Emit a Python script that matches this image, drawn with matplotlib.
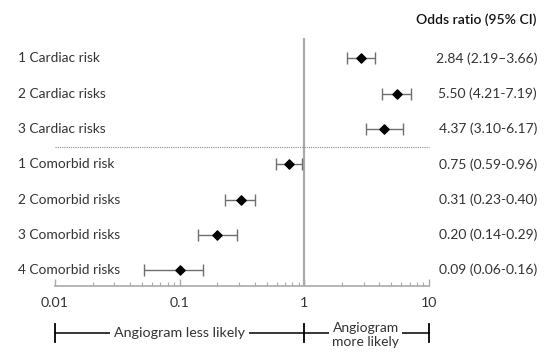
import matplotlib
matplotlib.use("Agg")
import matplotlib.pyplot as plt
import matplotlib.transforms as mtransforms
from matplotlib.lines import Line2D
from matplotlib.ticker import LogLocator, NullFormatter, FixedLocator, FixedFormatter

plt.rcParams['font.family'] = ['Lato', 'DejaVu Sans']

categories = ["1 Cardiac risk", "2 Cardiac risks", "3 Cardiac risks",
              "1 Comorbid risk", "2 Comorbid risks", "3 Comorbid risks", "4 Comorbid risks"]
odds = [2.84, 5.50, 4.37, 0.75, 0.31, 0.20, 0.10]
lower = [2.19, 4.21, 3.10, 0.59, 0.23, 0.14, 0.052]
upper = [3.66, 7.19, 6.17, 0.96, 0.40, 0.29, 0.155]
ci_labels = ["2.84 (2.19\u20133.66)", "5.50 (4.21-7.19)", "4.37 (3.10-6.17)",
             "0.75 (0.59-0.96)", "0.31 (0.23-0.40)", "0.20 (0.14-0.29)",
             "0.09 (0.06-0.16)"]
tick_vals = [0.01, 0.1, 1, 10]
tick_labels = ["0.01", "0.1", "1", "10"]

W, H = 555, 364
fig = plt.figure(figsize=(W/100, H/100), dpi=100)
ax = fig.add_axes([55/W, 1-286/H, (429-55)/W, (286-38)/H])

ax.set_xscale('log')
ax.set_xlim(0.01, 10)
ax.set_ylim(6.45, -0.58)

ys = list(range(len(categories)))
xerr = [[o - l for o, l in zip(odds, lower)], [u - o for o, u in zip(odds, upper)]]
ax.errorbar(odds, ys, xerr=xerr, fmt='none', ecolor='#6e6e6e', elinewidth=1.0,
            capsize=4, capthick=1.0, zorder=2)
ax.scatter(odds, ys, marker='D', s=22, color='black', zorder=3)

ax.axvline(1, color='#aaaaaa', lw=1.6, zorder=1)
ax.plot([0.01, 10], [2.5, 2.5], color='#888888', lw=0.8, ls=(0, (1, 1)), zorder=1,
        clip_on=False)

for s in ['top', 'right', 'left']:
    ax.spines[s].set_visible(False)
ax.spines['bottom'].set_color('#aaaaaa')
ax.spines['bottom'].set_linewidth(1.2)
ax.set_yticks([])
ax.xaxis.set_major_locator(FixedLocator(tick_vals))
ax.xaxis.set_major_formatter(FixedFormatter(tick_labels))
ax.xaxis.set_minor_locator(LogLocator(base=10, subs=range(2, 10)))
ax.xaxis.set_minor_formatter(NullFormatter())
ax.tick_params(axis='x', which='major', direction='in', length=5, width=1, color='#aaaaaa',
               labelsize=10.2, pad=8, labelcolor='#333333')
ax.tick_params(axis='x', which='minor', direction='in', length=3, width=0.8, color='#aaaaaa')

# row labels and CI labels
tr_left = mtransforms.blended_transform_factory(fig.transFigure, ax.transData)
for y, c, t in zip(ys, categories, ci_labels):
    ax.text(18/W, y, c, transform=tr_left, ha='left', va='center', fontsize=9.9, color='#333333')
    ax.text(537/W, y, t, transform=tr_left, ha='right', va='center', fontsize=10, color='#333333')

fig.text(537/W, 1-20/H, "Odds ratio (95% CI)", ha='right', va='center', fontsize=10,
         fontweight='semibold', color='#111111')

# bottom bracket
tr_b = mtransforms.blended_transform_factory(ax.transData, fig.transFigure)
yb = 1-333/H
fig.add_artist(Line2D([0.01, 10], [yb, yb], transform=tr_b, color='black', lw=1.1))
for xv in [0.01, 1, 10]:
    fig.add_artist(Line2D([xv, xv], [1-324/H, 1-342/H], transform=tr_b, color='black', lw=1.3))
fig.text(0.1, yb, "Angiogram less likely", transform=tr_b, ha='center', va='center',
         fontsize=10.3, color='#333333',
         bbox=dict(facecolor='white', edgecolor='none', pad=3))
fig.text(3.1, 1-335/H, "Angiogram\nmore likely", transform=tr_b, ha='center', va='center',
         fontsize=10, color='#333333', linespacing=1.15,
         bbox=dict(facecolor='white', edgecolor='none', pad=2))

fig.savefig("out.png", dpi=100)
